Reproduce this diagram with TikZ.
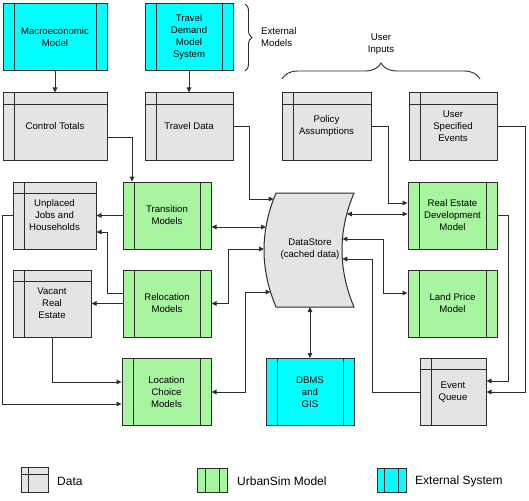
\documentclass[tikz,border=0pt]{standalone}
\usepackage{fontspec}
\setmainfont{Liberation Sans}
\usetikzlibrary{arrows.meta,decorations.pathreplacing}

\definecolor{datafill}{RGB}{228,228,228}
\definecolor{modelfill}{RGB}{168,245,160}
\definecolor{extfill}{RGB}{0,255,255}
\definecolor{edge}{RGB}{45,45,45}

\tikzset{
  boxbase/.style={draw=edge, line width=1pt, inner sep=0pt, align=center,
    font=\fontsize{9.6}{12}\selectfont, minimum height=67pt},
  % data store: header strip on top, narrow column on the left
  datab/.style={boxbase, fill=datafill, path picture={
    \draw[edge,line width=1pt] ([xshift=#1]path picture bounding box.north west)
      -- ([xshift=#1]path picture bounding box.south west);
    \draw[edge,line width=1pt] ([yshift=-#1]path picture bounding box.north west)
      -- ([yshift=-#1]path picture bounding box.north east);}},
  datab/.default=11pt,
  % process box: narrow columns on both sides
  modb/.style={boxbase, path picture={
    \draw[edge,line width=1pt] ([xshift=#1]path picture bounding box.north west)
      -- ([xshift=#1]path picture bounding box.south west);
    \draw[edge,line width=1pt] ([xshift=-#1]path picture bounding box.north east)
      -- ([xshift=-#1]path picture bounding box.south east);}},
  modb/.default=11pt,
  umodel/.style={modb=#1, fill=modelfill}, umodel/.default=11pt,
  extsys/.style={modb=#1, fill=extfill}, extsys/.default=11pt,
  conn/.style={draw=edge, line width=1pt},
  arr/.style={conn, -{Triangle[length=5pt,width=4.5pt]}},
  darr/.style={conn, {Triangle[length=5pt,width=4.5pt]}-{Triangle[length=5pt,width=4.5pt]}},
  brc/.style={draw=edge, line width=0.9pt, decorate},
  note/.style={font=\fontsize{9.6}{12}\selectfont, inner sep=0pt},
  legtext/.style={font=\fontsize{12}{14}\selectfont, inner sep=0pt, anchor=west}
}

\begin{document}
\begin{tikzpicture}[x=1pt,y=-1pt]
  \fill[white] (0,0) rectangle (529,500);
  \useasboundingbox (0,0) rectangle (529,500);

  % external models
  \node[extsys, minimum width=104pt] (macro) at (55,37.5) {Macroeconomic\\Model};
  \node[extsys, minimum width=88pt] (tdms) at (189,37.5) {Travel\\Demand\\Model\\System};
  \draw[brc, decoration={brace, amplitude=7pt}] (245,4) -- (245,71);
  \node[note, anchor=west, align=left] (extlbl) at (261,37) {External\\Models};

  % user inputs
  \draw[brc, decoration={brace, amplitude=16pt}] (282,79) -- (480,79);
  \node[note, align=center] (uilbl) at (381,44.5) {User\\Inputs};

  % data tables
  \node[datab, minimum width=104pt] (ctot) at (55,126.5) {Control Totals};
  \node[datab, minimum width=88pt] (tdata) at (189,126.5) {Travel Data};
  \node[datab, minimum width=89pt] (policy) at (326.5,126.5) {Policy\\Assumptions};
  \node[datab, minimum width=88pt] (uevents) at (453,126.5) {User\\Specified\\Events};
  \node[datab, minimum width=83pt] (ujh) at (54.5,215.5) {Unplaced\\Jobs and\\Households};
  \node[datab, minimum width=78pt] (vre) at (52,303.5) {Vacant\\Real\\Estate};
  \node[datab, minimum width=66pt] (eq) at (453,392) {Event\\Queue};

  % UrbanSim models
  \node[umodel, minimum width=88pt] (trans) at (167,215.5) {Transition\\Models};
  \node[umodel, minimum width=88pt] (reloc) at (167,303.5) {Relocation\\Models};
  \node[umodel, minimum width=89pt] (lcm) at (166.5,392) {Location\\Choice\\Models};
  \node[umodel, minimum width=89pt] (redm) at (452.5,215.5) {Real Estate\\Development\\Model};
  \node[umodel, minimum width=89pt] (lpm) at (452.5,303.5) {Land Price\\Model};

  % external system
  \node[extsys, minimum width=88pt] (dbms) at (310,392) {DBMS\\and\\GIS};

  % data store shape
  \draw[edge, fill=datafill, line width=1pt]
    (276,193) -- (354,193) .. controls (338,231) and (338,269) .. (354,307)
    -- (276,307) .. controls (260,269) and (260,231) .. (276,193) -- cycle;
  \node[note, align=center] (ds) at (310,249) {DataStore\\(cached data)};
  \coordinate (ds-td) at (273.6,199);
  \coordinate (ds-tm) at (266,227);
  \coordinate (ds-rm) at (264,249);
  \coordinate (ds-lc) at (270.5,292);
  \coordinate (ds-re) at (346.8,214);
  \coordinate (ds-lp) at (342.4,239);
  \coordinate (ds-eq) at (342.3,259);
  \coordinate (ds-db) at (310,307);

  % connectors
  \draw[arr] (macro.south) -- (ctot.north);
  \draw[arr] (tdms.south) -- (tdata.north);
  \draw[arr] (ctot.east |- 0,137) -| (trans.north -| 132,0);
  \draw[arr] (tdata.east) -| (249,199) -- (ds-td);
  \draw[arr] (policy.east) -| (388,203) -- (redm.west |- 0,203);
  \draw[arr] (uevents.east) -| (525,392) -- (eq.east);
  \draw[arr] (redm.east) -| (508,381) -- (eq.east |- 0,381);
  \draw[arr] (trans.west) -- (ujh.east);
  \draw[arr] (reloc.west |- 0,293) -| (107,232) -- (ujh.east |- 0,232);
  \draw[arr] (reloc.west) -- (vre.east);
  \draw[arr] (vre.south) |- (lcm.west |- 0,382);
  \draw[arr] (ujh.west) -| (2,404) -- (lcm.west |- 0,404);
  \draw[darr] (trans.east |- ds-tm) -- (ds-tm);
  \draw[darr] (reloc.east) -| (228,249) -- (ds-rm);
  \draw[darr] (lcm.east) -| (245,292) -- (ds-lc);
  \draw[darr] (ds-re) -- (redm.west |- ds-re);
  \draw[darr] (ds-lp) -| (383,293) -- (lpm.west |- 0,293);
  \draw[arr] (eq.west) -| (372,259) -- (ds-eq);
  \draw[darr] (ds-db) -- (dbms.north);

  % legend
  \node[datab=7pt, minimum width=27pt, minimum height=25pt] (legdata) at (34.5,479.5) {};
  \node[legtext] (legdatat) at (57,481.5) {Data};
  \node[umodel=8pt, minimum width=30pt, minimum height=24pt] (legmod) at (212,480) {};
  \node[legtext] (legmodt) at (237,481.5) {UrbanSim Model};
  \node[extsys=7.5pt, minimum width=29pt, minimum height=24pt] (legext) at (391.5,480) {};
  \node[legtext] (legextt) at (415,481.5) {External System};
\end{tikzpicture}
\end{document}
